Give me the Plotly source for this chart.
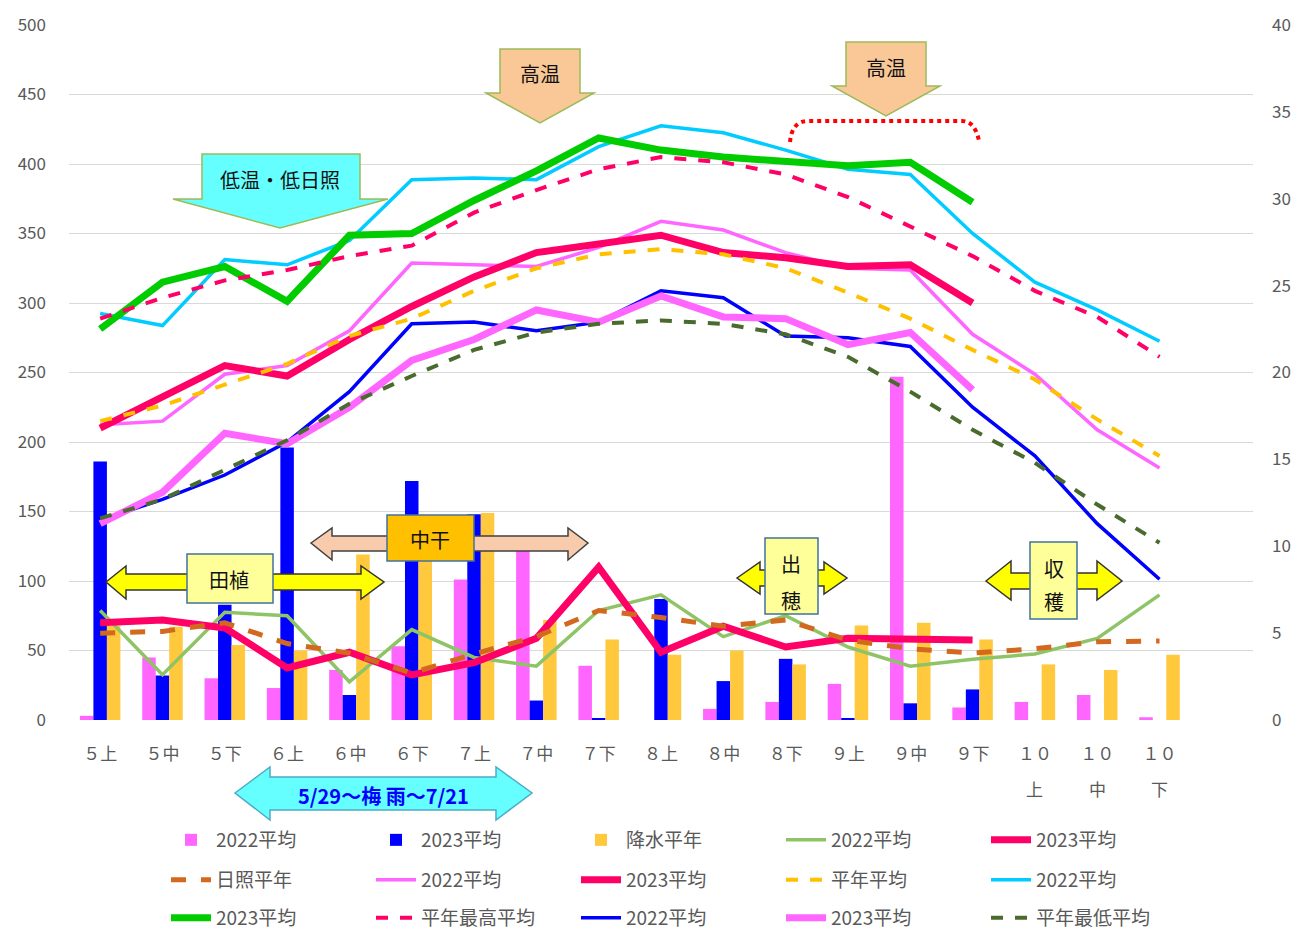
import plotly.graph_objects as go

# ---------------- data ----------------
periods = ["５上", "５中", "５下", "６上", "６中", "６下", "７上", "７中", "７下",
           "８上", "８中", "８下", "９上", "９中", "９下", "１０", "１０", "１０"]
period_sub = ["", "", "", "", "", "", "", "", "", "", "", "", "", "", "", "上", "中", "下"]

# precipitation (left axis, mm)
rain_2022 = [3, 45, 30, 23, 36, 53, 101, 123, 39, 0, 8, 13, 26, 247, 9, 13, 18, 2]
rain_2023 = [186, 32, 83, 196, 18, 172, 148, 14, 1, 87, 28, 44, 1, 12, 22, None, None, None]
rain_norm = [68, 67, 54, 50, 119, 115, 149, 72, 58, 47, 50, 40, 68, 70, 58, 40, 36, 47]

# sunshine hours (right axis)
sun_2022 = [6.3, 2.6, 6.2, 6.0, 2.2, 5.2, 3.6, 3.1, 6.3, 7.2, 4.8, 6.0, 4.2, 3.1, 3.5, 3.8, 4.7, 7.2]
sun_2023 = [5.6, 5.75, 5.3, 3.0, 3.9, 2.6, 3.3, 4.7, 8.8, 3.9, 5.4, 4.2, 4.7, 4.7, 4.6]
sun_norm = [5.0, 5.1, 5.6, 4.4, 3.85, 2.7, 3.8, 4.8, 6.3, 5.9, 5.4, 5.75, 4.6, 4.1, 3.85, 4.1, 4.5, 4.55]

# mean temperature
tmean_2022 = [17.0, 17.2, 19.9, 20.4, 22.4, 26.3, 26.2, 26.1, 27.2, 28.7, 28.2, 26.9, 26.0, 25.9, 22.2, 19.9, 16.7, 14.5]
tmean_2023 = [16.8, 18.6, 20.4, 19.8, 21.9, 23.8, 25.5, 26.9, 27.4, 27.9, 26.9, 26.6, 26.1, 26.2, 24.0]
tmean_norm = [17.2, 18.1, 19.3, 20.5, 22.1, 23.1, 24.7, 26.0, 26.8, 27.1, 26.8, 26.0, 24.6, 23.1, 21.3, 19.6, 17.3, 15.2]

# max temperature
tmax_2022 = [23.4, 22.7, 26.5, 26.2, 27.6, 31.1, 31.2, 31.1, 33.0, 34.2, 33.8, 32.8, 31.7, 31.4, 28.0, 25.2, 23.6, 21.8]
tmax_2023 = [22.5, 25.2, 26.1, 24.1, 27.9, 28.0, 29.9, 31.6, 33.5, 32.8, 32.4, 32.1, 31.9, 32.1, 29.8]
tmax_norm = [23.1, 24.3, 25.3, 25.9, 26.7, 27.3, 29.2, 30.5, 31.7, 32.4, 32.1, 31.4, 30.1, 28.4, 26.7, 24.7, 23.2, 20.9]

# min temperature
tmin_2022 = [11.5, 12.7, 14.1, 16.0, 18.9, 22.8, 22.9, 22.4, 22.9, 24.7, 24.3, 22.1, 22.0, 21.5, 18.0, 15.2, 11.3, 8.1]
tmin_2023 = [11.3, 13.1, 16.5, 15.9, 18.0, 20.7, 21.9, 23.6, 22.9, 24.4, 23.2, 23.1, 21.6, 22.3, 19.0]
tmin_norm = [11.6, 12.7, 14.4, 16.1, 18.2, 19.8, 21.3, 22.3, 22.8, 23.0, 22.8, 22.2, 20.9, 18.9, 16.7, 14.8, 12.4, 10.2]

xs = list(range(len(periods)))

# ---------------- figure ----------------
FONT = "Noto Sans CJK JP"
GRAY = "#595959"

fig = go.Figure()

def bar(name, vals, color, lg):
    fig.add_trace(go.Bar(x=xs[:len(vals)], y=vals, name=name, marker_color=color,
                         marker_line_width=0, legend=lg, yaxis="y"))

def line(name, vals, color, width, dash="solid", lg="legend"):
    fig.add_trace(go.Scatter(x=xs[:len(vals)], y=vals, name=name, mode="lines",
                             line=dict(color=color, width=width, dash=dash),
                             legend=lg, yaxis="y2"))

bar("2022平均", rain_2022, "#FF66FF", "legend")
bar("2023平均", rain_2023, "#0000FF", "legend")
bar("降水平年", rain_norm, "#FFC83D", "legend")
line("2022平均", sun_2022, "#8FC466", 3.5, lg="legend")
line("2023平均", sun_2023, "#FF0066", 7, lg="legend")

line("日照平年", sun_norm, "#D2691E", 5, dash="dash", lg="legend2")
line("2022平均", tmean_2022, "#FF66FF", 3.5, lg="legend2")
line("2023平均", tmean_2023, "#FF0066", 7, lg="legend2")
line("平年平均", tmean_norm, "#FFC000", 4, dash="dash", lg="legend2")
line("2022平均", tmax_2022, "#00CCFF", 3.5, lg="legend2")

line("2023平均", tmax_2023, "#00CC00", 7, lg="legend3")
line("平年最高平均", tmax_norm, "#FF0066", 4, dash="dash", lg="legend3")
line("2022平均", tmin_2022, "#0000FF", 3.5, lg="legend3")
line("2023平均", tmin_2023, "#FF66FF", 7, lg="legend3")
line("平年最低平均", tmin_norm, "#4A6B2E", 4, dash="dash", lg="legend3")

# ---------------- layout geometry (screen pixels) ----------------
PAGE_OFF = 8                      # default body margin of the html page
W, H = 1300 - PAGE_OFF, 929 - PAGE_OFF
L, R, T, B = 69, 1253, 25, 720    # plot area in screen pixels
def X(px):
    return (px - L) / (R - L)
def Y(py):
    return (B - py) / (B - T)

def pth(points):
    return "M " + " L ".join(f"{X(a):.5f},{Y(b):.5f}" for a, b in points) + " Z"

shapes = []

def down_arrow(x1, x2, top, sh, hx1, hx2, tipx, tipy, fill, border):
    pts = [(x1, top), (x2, top), (x2, sh), (hx2, sh), (tipx, tipy), (hx1, sh), (x1, sh)]
    shapes.append(dict(type="path", path=pth(pts), xref="paper", yref="paper",
                       fillcolor=fill, line=dict(color=border, width=1.5), layer="above"))

def dbl_arrow(lt, ls, rs, rt, cy, htop, hbot, btop, bbot, fill, border):
    pts = [(lt, cy), (ls, htop), (ls, btop), (rs, btop), (rs, htop), (rt, cy),
           (rs, hbot), (rs, bbot), (ls, bbot), (ls, hbot)]
    shapes.append(dict(type="path", path=pth(pts), xref="paper", yref="paper",
                       fillcolor=fill, line=dict(color=border, width=1.5), layer="above"))

def box(x1, y1, x2, y2, fill, border):
    shapes.append(dict(type="rect", xref="paper", yref="paper",
                       x0=X(x1), x1=X(x2), y0=Y(y2), y1=Y(y1),
                       fillcolor=fill, line=dict(color=border, width=1.5), layer="above"))

# down arrows
down_arrow(202, 360, 154, 199, 173, 388, 280, 228, "#66FFFF", "#9BBB59")
down_arrow(500, 580, 49, 93, 486, 594, 540, 123, "#F9C896", "#9BBB59")
down_arrow(846, 926, 42, 86, 832, 940, 886, 116, "#F9C896", "#9BBB59")

# red dotted bracket
shapes.append(dict(type="path", xref="paper", yref="paper",
                   path=(f"M {X(790):.5f},{Y(142):.5f} Q {X(792):.5f},{Y(121):.5f} {X(808):.5f},{Y(121):.5f} "
                         f"L {X(962):.5f},{Y(121):.5f} Q {X(975):.5f},{Y(121):.5f} {X(979):.5f},{Y(141):.5f}"),
                   line=dict(color="#FF0000", width=4, dash="dot"), layer="above"))

# double arrows
dbl_arrow(106, 126, 361, 384, 582, 566, 599, 574, 590, "#FFFF00", "#333333")
box(187, 554, 273, 603, "#FFFF99", "#41719C")
dbl_arrow(311, 332, 568, 588, 543, 528, 560, 536, 551, "#F8CBAD", "#404040")
box(387, 515, 474, 561, "#FFC000", "#41719C")
dbl_arrow(737, 760, 824, 847, 578, 562, 594, 570, 586, "#FFFF00", "#333333")
box(765, 538, 818, 614, "#FFFF99", "#41719C")
dbl_arrow(986, 1011, 1097, 1122, 581, 561, 600, 573, 589, "#FFFF00", "#333333")
box(1030, 542, 1077, 619, "#FFFF99", "#41719C")
# rainy season arrow
dbl_arrow(235, 270, 496, 532, 793, 767, 820, 777, 810, "#66FFFF", "#4BACC6")

annotations = []
def txt(s, px, py, size=20, color="#111111", bold=False):
    annotations.append(dict(text=(f"<b>{s}</b>" if bold else s), x=X(px), y=Y(py),
                            xref="paper", yref="paper", showarrow=False,
                            xanchor="center", yanchor="middle",
                            font=dict(family=FONT, size=size, color=color)))

txt("低温・低日照", 280, 179)
txt("高温", 540, 74)
txt("高温", 886, 67)
txt("田植", 229, 579)
txt("中干", 430, 539)
txt("出", 791, 563)
txt("穂", 791, 600)
txt("収", 1054, 568)
txt("穫", 1054, 601)
txt("5/29～梅 雨～7/21", 383, 796, size=20, color="#0000FF", bold=True)

# second line of the October tick labels, placed on the x scale
for xi, s in zip(xs, period_sub):
    if s:
        annotations.append(dict(text=s, x=xi, y=Y(788), xref="x", yref="paper",
                                showarrow=False, xanchor="center", yanchor="middle",
                                font=dict(family=FONT, size=17, color=GRAY)))

legend_common = dict(orientation="h", xanchor="left", yanchor="middle",
                     entrywidth=150, entrywidthmode="pixels",
                     font=dict(family=FONT, size=19, color=GRAY),
                     bgcolor="rgba(0,0,0,0)", itemwidth=40, traceorder="normal")

fig.update_layout(
    width=W, height=H,
    margin=dict(l=L - PAGE_OFF, r=W - (R - PAGE_OFF), t=T - PAGE_OFF, b=H - (B - PAGE_OFF),
                pad=0, autoexpand=False),
    paper_bgcolor="white", plot_bgcolor="white",
    font=dict(family=FONT, color=GRAY),
    barmode="group", bargap=0.35, bargroupgap=0,
    xaxis=dict(range=[-0.5, 18.5], tickmode="array", tickvals=xs, ticktext=periods,
               showgrid=False, zeroline=False, showline=False, ticks="", automargin=False,
               tickfont=dict(family=FONT, size=17, color=GRAY), ticklabelstandoff=22,
               fixedrange=True),
    yaxis=dict(range=[0, 500], dtick=50, showgrid=True, gridcolor="#D9D9D9", gridwidth=1.3,
               zeroline=False, showline=False, ticks="", automargin=False,
               tickfont=dict(family=FONT, size=17, color=GRAY), ticklabelstandoff=22),
    yaxis2=dict(range=[0, 40], dtick=5, overlaying="y", side="right", showgrid=False,
                zeroline=False, showline=False, ticks="", automargin=False,
                tickfont=dict(family=FONT, size=17, color=GRAY), ticklabelstandoff=18),
    legend=dict(x=X(166), y=Y(840), **legend_common),
    legend2=dict(x=X(166), y=Y(880), **legend_common),
    legend3=dict(x=X(166), y=Y(918), **legend_common),
    shapes=shapes,
    annotations=annotations,
)

fig.write_html("out.html")
